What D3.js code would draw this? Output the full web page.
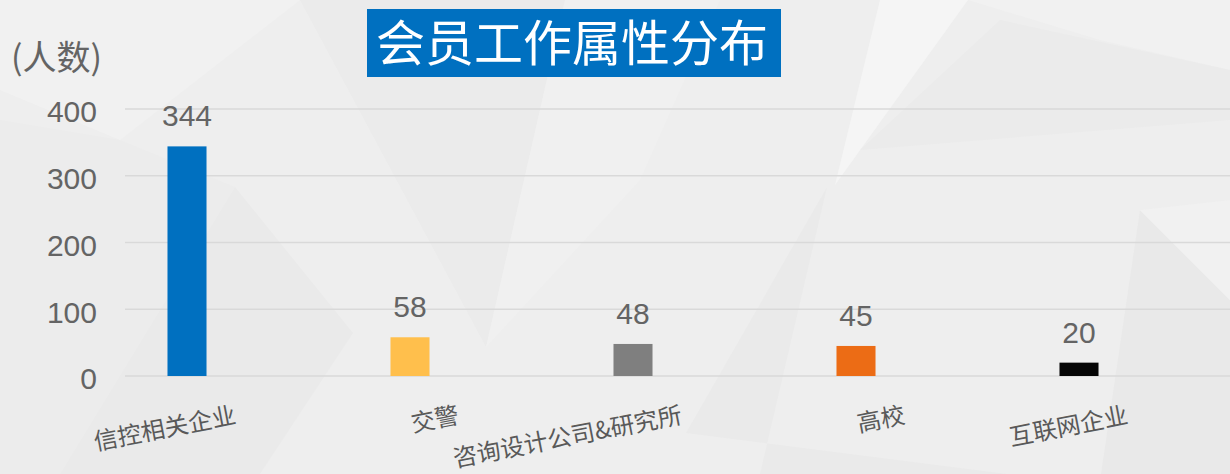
<!DOCTYPE html>
<html>
<head>
<meta charset="utf-8">
<script src="https://cdn.jsdelivr.net/npm/d3@7"></script>
<style>
  html, body { margin: 0; padding: 0; background: #eeeeee; }
  svg { display: block; }
</style>
</head>
<body>
<div id="chart"></div>
<script>
const categories = ["信控相关企业", "交警", "咨询设计公司&研究所", "高校", "互联网企业"];
const values = [344, 58, 48, 45, 20];
const barColors = ["#0070C0", "#FFBF4C", "#7F7F7F", "#EC6C15", "#050505"];
const yTicks = [0, 100, 200, 300, 400];
const titleText = "会员工作属性分布";
const yUnit = "(人数)";

const W = 1230, H = 474;
const svg = d3.select("#chart").append("svg").attr("width", W).attr("height", H);

// background
svg.append("rect").attr("width", W).attr("height", H).attr("fill", "#eeeeee");
const bgShapes = [
  { pts: [[0,0],[300,0],[120,140],[0,90]], fill: "#f1f1f1" },
  { pts: [[300,0],[565,0],[486,347]], fill: "#ebebeb" },
  { pts: [[565,0],[720,0],[640,180],[486,347]], fill: "#f0f0f0" },
  { pts: [[0,120],[120,140],[235,187],[60,474],[0,474]], fill: "#ececec" },
  { pts: [[235,187],[353,333],[260,474],[60,474]], fill: "#eaeaea" },
  { pts: [[880,0],[968,0],[835,185]], fill: "#f5f5f5" },
  { pts: [[968,0],[1230,0],[1230,70],[1100,40]], fill: "#f1f1f1" },
  { pts: [[1000,20],[1230,70],[1230,120],[860,150]], fill: "#ebebeb" },
  { pts: [[827,187],[686,433],[1007,474],[760,474]], fill: "#eaeaea" },
  { pts: [[1140,210],[1101,474],[1230,474],[1230,300]], fill: "#e9e9e9" },
  { pts: [[1230,300],[1140,210],[1230,200]], fill: "#f1f1f1" }
];
svg.append("g").selectAll("polygon").data(bgShapes).join("polygon")
  .attr("points", d => d.pts.map(p => p.join(",")).join(" "))
  .attr("fill", d => d.fill);

// scales
const x = d3.scaleBand().domain(categories)
  .range([75.5, 1190.5]).paddingInner(0.825).paddingOuter(0.4125);
const y = d3.scaleLinear().domain([0, 400]).range([376, 109]);

// gridlines
svg.append("g").selectAll("line").data(yTicks).join("line")
  .attr("x1", 125).attr("x2", W)
  .attr("y1", d => y(d)).attr("y2", d => y(d))
  .attr("stroke", "#d9d9d9").attr("stroke-width", 1.5);

// y axis labels
const yAxis = svg.append("g").attr("transform", "translate(97,0)")
  .call(d3.axisLeft(y).tickValues(yTicks).tickSize(0).tickPadding(0));
yAxis.select(".domain").remove();
yAxis.selectAll("text")
  .attr("fill", "#646464")
  .attr("font-family", "'Liberation Sans', Arial, sans-serif")
  .attr("font-size", 30)
  .attr("dy", "0.43em");

// unit label
svg.append("text").attr("x", 11).attr("y", 70)
  .attr("fill", "#646464")
  .attr("font-family", "'Noto Sans CJK SC', sans-serif")
  .attr("font-size", 34)
  .text(yUnit);

// bars
const data = categories.map((c, i) => ({ c, v: values[i], color: barColors[i] }));
svg.append("g").selectAll("rect").data(data).join("rect")
  .attr("x", d => x(d.c))
  .attr("width", x.bandwidth())
  .attr("y", d => y(d.v))
  .attr("height", d => y(0) - y(d.v))
  .attr("fill", d => d.color);

// value labels
svg.append("g").selectAll("text").data(data).join("text")
  .attr("x", d => x(d.c) + x.bandwidth() / 2)
  .attr("y", d => y(d.v) - 20)
  .attr("text-anchor", "middle")
  .attr("fill", "#646464")
  .attr("font-family", "'Liberation Sans', Arial, sans-serif")
  .attr("font-size", 30)
  .text(d => d.v);

// category labels (rotated)
svg.append("g").selectAll("text").data(data).join("text")
  .attr("transform", d => {
    const ax = x(d.c) + x.bandwidth() / 2 + 50;
    const ay = 423;
    return `translate(${ax},${ay}) rotate(-11)`;
  })
  .attr("text-anchor", "end")
  .attr("fill", "#595959")
  .attr("font-family", "'Noto Sans CJK SC', sans-serif")
  .attr("font-size", 24)
  .text(d => d.c);

// title box
svg.append("rect").attr("x", 367).attr("y", 9).attr("width", 414).attr("height", 68)
  .attr("fill", "#0070C0");
svg.append("text").attr("x", 572).attr("y", 61)
  .attr("text-anchor", "middle")
  .attr("fill", "#ffffff")
  .attr("font-family", "'Noto Sans CJK SC', sans-serif")
  .attr("font-size", 49)
  .text(titleText);
</script>
</body>
</html>
